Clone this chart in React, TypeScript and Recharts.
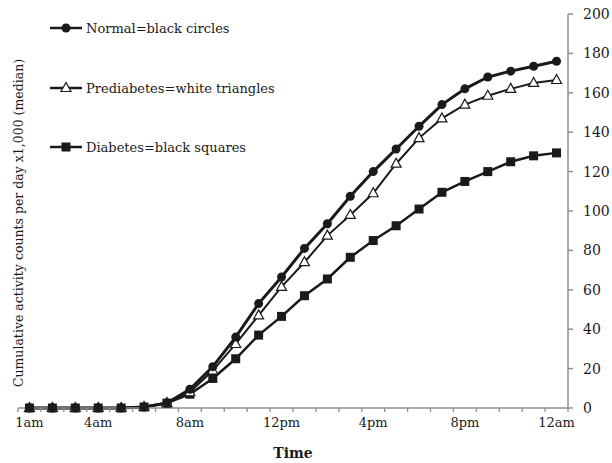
import { LineChart, Line, XAxis, YAxis, Legend, Label } from 'recharts'

// hours of the day, one point per hour
const hours = [
  '1am', '2am', '3am', '4am', '5am', '6am', '7am', '8am', '9am', '10am', '11am', '12pm',
  '1pm', '2pm', '3pm', '4pm', '5pm', '6pm', '7pm', '8pm', '9pm', '10pm', '11pm', '12am',
]

// cumulative activity counts x1,000 (median)
const normal = [0, 0, 0, 0, 0, 0.5, 2.5, 9.5, 21, 36, 53, 66.5, 81, 93.5, 107.5, 120, 131.5, 143, 154, 162, 168, 171, 173.5, 176]
const prediabetes = [0, 0, 0, 0, 0, 0.5, 2.5, 8, 19, 32.5, 47, 61.5, 74, 87.5, 98, 109, 124, 137, 147, 154, 158.5, 162, 165, 166.5]
const diabetes = [0, 0, 0, 0, 0, 0.5, 2.5, 7, 15, 25, 37, 46.5, 57, 65.5, 76.5, 85, 92.5, 101, 109.5, 115, 120, 125, 128, 129.5]

const labelledHours = ['1am', '4am', '8am', '12pm', '4pm', '8pm', '12am']
const yTicks = [0, 20, 40, 60, 80, 100, 120, 140, 160, 180, 200]

const data = hours.map((h, i) => ({
  hour: i + 1,
  label: h,
  normal: normal[i],
  prediabetes: prediabetes[i],
  diabetes: diabetes[i],
}))

// tick lines sit between hours, labels sit on the hours
const xTicks: number[] = []
for (let i = 0; i <= hours.length; i++) {
  xTicks.push(i + 0.5)
  const h = hours[i]
  if (h && labelledHours.includes(h)) xTicks.push(i + 1)
}

const FONT = '"DejaVu Serif", serif'
const INK = '#1a1a1a'
const AXIS = '#8f8f8f'

const XTick = (props: any) => {
  const { x, y, payload } = props
  const v = payload.value
  if (v % 1 !== 0) {
    return <line x1={x} x2={x} y1={y} y2={y + 4} stroke={AXIS} strokeWidth={1.3} />
  }
  return (
    <text x={x} y={y + 19} textAnchor="middle" fontSize={13} fontFamily={FONT} fill={INK}>
      {hours[v - 1]}
    </text>
  )
}

const Square = (props: any) => {
  const { cx, cy, index } = props
  return <rect key={`sq-${index}`} x={cx - 4.5} y={cy - 4.5} width={9} height={9} fill={INK} />
}

const Triangle = (props: any) => {
  const { cx, cy, index } = props
  return (
    <polygon
      key={`tri-${index}`}
      points={`${cx},${cy - 5.5} ${cx - 5},${cy + 3.5} ${cx + 5},${cy + 3.5}`}
      fill="#fff"
      stroke={INK}
      strokeWidth={1.2}
    />
  )
}

const legendRows = [
  { name: 'Normal=black circles', marker: 'circle', y: 28 },
  { name: 'Prediabetes=white triangles', marker: 'triangle', y: 88 },
  { name: 'Diabetes=black squares', marker: 'square', y: 147 },
]

const renderLegend = () => (
  <svg width={320} height={170} style={{ display: 'block' }}>
    {legendRows.map((r) => (
      <g key={r.name}>
        <line x1={50} x2={82} y1={r.y} y2={r.y} stroke={INK} strokeWidth={2.5} />
        {r.marker === 'circle' && <circle cx={66} cy={r.y} r={4.5} fill={INK} />}
        {r.marker === 'square' && <rect x={61.5} y={r.y - 4.5} width={9} height={9} fill={INK} />}
        {r.marker === 'triangle' && (
          <polygon
            points={`66,${r.y - 5.5} 61,${r.y + 3.5} 71,${r.y + 3.5}`}
            fill="#fff"
            stroke={INK}
            strokeWidth={1.2}
          />
        )}
        <text x={86} y={r.y + 5} fontSize={13} fontFamily={FONT} fill={INK}>
          {r.name}
        </text>
      </g>
    ))}
  </svg>
)

export default function App() {
  return (
    <div style={{ position: 'absolute', left: 0, top: 0, width: 612, height: 463, background: '#fff' }}>
      <LineChart
        width={612}
        height={463}
        data={data}
        margin={{ top: 14, right: 4, bottom: 5, left: 18 }}
      >
        <XAxis
          dataKey="hour"
          type="number"
          domain={[0.5, 24.5]}
          ticks={xTicks}
          interval={0}
          tick={<XTick />}
          tickLine={false}
          tickSize={0}
          tickMargin={0}
          height={50}
          stroke={AXIS}
          strokeWidth={1.5}
        >
          <Label
            value="Time"
            position="insideBottom"
            offset={0}
            style={{ fontFamily: FONT, fontSize: 14, fontWeight: 'bold', fill: INK }}
          />
        </XAxis>
        <YAxis
          orientation="right"
          domain={[0, 200]}
          ticks={yTicks}
          interval={0}
          width={40}
          tickSize={5}
          tickMargin={10}
          stroke={AXIS}
          strokeWidth={1.5}
          tick={{ fontFamily: FONT, fontSize: 14, fill: INK, textAnchor: 'start' }}
        />
        <Legend
          layout="vertical"
          align="center"
          verticalAlign="middle"
          content={renderLegend}
          wrapperStyle={{ left: 0, top: 0, width: 320, height: 170 }}
        />
        <Line
          dataKey="diabetes"
          name="Diabetes=black squares"
          stroke={INK}
          strokeWidth={2.5}
          dot={<Square />}
          activeDot={false}
          isAnimationActive={false}
        />
        <Line
          dataKey="prediabetes"
          name="Prediabetes=white triangles"
          stroke={INK}
          strokeWidth={2}
          dot={<Triangle />}
          activeDot={false}
          isAnimationActive={false}
        />
        <Line
          dataKey="normal"
          name="Normal=black circles"
          stroke={INK}
          strokeWidth={3}
          dot={{ r: 4.5, fill: INK, stroke: INK, strokeWidth: 0 }}
          activeDot={false}
          isAnimationActive={false}
        />
      </LineChart>
      <div
        style={{
          position: 'absolute',
          left: 18,
          top: 223,
          transform: 'translate(-50%, -50%) rotate(-90deg)',
          whiteSpace: 'nowrap',
          fontFamily: FONT,
          fontSize: 12.5,
          color: INK,
        }}
      >
        Cumulative activity counts per day x1,000 (median)
      </div>
    </div>
  )
}
